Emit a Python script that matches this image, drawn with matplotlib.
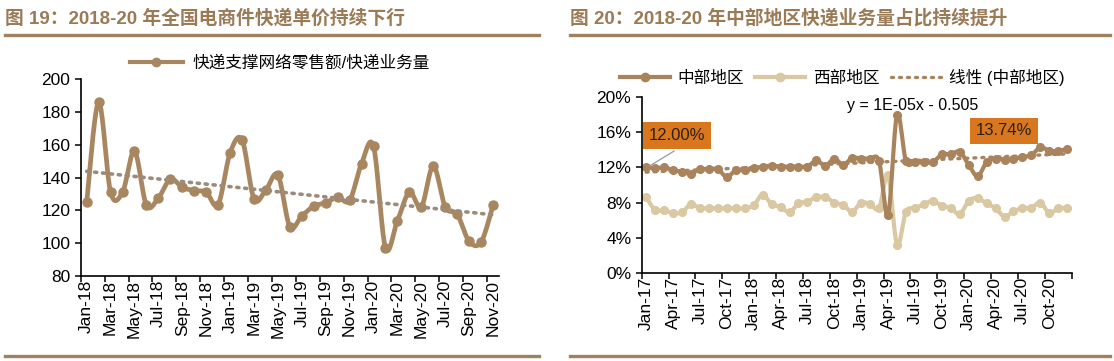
import matplotlib.pyplot as plt
import numpy as np
import pandas as pd
from matplotlib.lines import Line2D

plt.rcParams['font.family'] = ['Liberation Sans', 'Noto Sans CJK SC']

# 图19: 快递支撑网络零售额/快递业务量 (Jan-18 .. Nov-20)
months19 = pd.date_range('2018-01', periods=35, freq='MS').strftime('%b-%y').tolist()
price = [125, 186, 131, 131, 156, 123, 127.5, 139, 134, 132, 131, 123.5,
         155, 163, 127, 132.5, 141.5, 110, 116.5, 122.5, 124.5, 128, 126, 148.5,
         159, 97, 113.5, 131, 122, 147, 122, 117.5, 101, 100.5, 123]

# 图20: 快递业务量占比 (Jan-17 .. Dec-20), %
months20 = pd.date_range('2017-01', periods=48, freq='MS').strftime('%b-%y').tolist()
central = [12.0, 11.9, 12.0, 11.7, 11.5, 11.3, 11.8, 11.8, 11.8, 10.9, 11.7, 11.7,
           11.9, 12.1, 12.2, 12.1, 12.1, 12.1, 12.1, 12.8, 12.2, 13.0, 12.3, 13.1,
           13.0, 13.0, 12.7, 6.6, 18.0, 12.7, 12.6, 12.6, 12.6, 13.5, 13.5, 13.8,
           12.3, 11.0, 12.6, 13.0, 12.9, 13.0, 13.2, 13.4, 14.3, 13.9, 13.9, 14.1]
western = [8.6, 7.15, 7.1, 6.8, 6.9, 7.8, 7.35, 7.35, 7.35, 7.35, 7.35, 7.35,
           7.7, 8.9, 7.8, 7.5, 6.9, 7.9, 8.1, 8.6, 8.6, 8.0, 7.7, 6.95,
           8.0, 7.8, 7.35, 11.1, 3.2, 6.95, 7.35, 7.8, 8.2, 7.6, 7.4, 6.65,
           8.2, 8.5, 7.9, 7.35, 6.4, 7.0, 7.35, 7.4, 8.0, 6.8, 7.35, 7.35]

title_color = '#9B7A56'
rule_color = '#A0805F'
c_price = '#A88760'
c_central = '#A9835C'
c_western = '#D9C8A2'
c_trend = '#9C8B7A'
c_box = '#D9771E'


def smooth(y, n=20):
    # excel-like smoothed line (bezier through the points)
    p = np.column_stack([np.arange(len(y), dtype=float), np.asarray(y, float)])
    pp = np.vstack([p[0], p, p[-1]])
    t = np.linspace(0, 1, n)[:, None]
    out = []
    for i in range(len(p) - 1):
        p0, p1, p2, p3 = pp[i], pp[i + 1], pp[i + 2], pp[i + 3]
        c1 = p1 + (p2 - p0) / 6
        c2 = p2 - (p3 - p1) / 6
        seg = (1 - t)**3 * p1 + 3 * (1 - t)**2 * t * c1 + 3 * (1 - t) * t**2 * c2 + t**3 * p2
        out.append(seg if i == 0 else seg[1:])
    out = np.vstack(out)
    return out[:, 0], out[:, 1]


def style_axis(ax):
    for s in ['top', 'right']:
        ax.spines[s].set_visible(False)
    for s in ['left', 'bottom']:
        ax.spines[s].set_linewidth(1.2)
    ax.tick_params(axis='both', which='major', direction='out', length=4, width=1.1,
                   labelsize=12.5, colors='black')
    ax.tick_params(axis='x', which='minor', length=0, labelsize=12.5, rotation=90, pad=3)


fig = plt.figure(figsize=(11.14, 3.61), dpi=100)

# titles and rules
fig.text(5 / 1114, 1 - 18 / 361, '图 19：2018-20 年全国电商件快递单价持续下行', fontsize=13.5,
         fontweight='bold', color=title_color, va='center', ha='left')
fig.text(570 / 1114, 1 - 18 / 361, '图 20：2018-20 年中部地区快递业务量占比持续提升', fontsize=13.5,
         fontweight='bold', color=title_color, va='center', ha='left')
for x0, x1 in [(5, 539), (570, 1110)]:
    for yy in [35, 356]:
        fig.add_artist(Line2D([x0 / 1114, x1 / 1114], [1 - yy / 361] * 2, color=rule_color,
                              lw=2.4, transform=fig.transFigure))

# ---- left chart
ax1 = fig.add_axes([80.7 / 1114, 1 - 275.7 / 361, 418.3 / 1114, 196.4 / 361])
x1 = np.arange(len(price))
sx, sy = smooth(price)
ax1.plot(sx, sy, color=c_price, lw=3.4, solid_capstyle='round')
ax1.plot(x1, price, 'o', color=c_price, ms=6.5)
k, b = np.polyfit(x1, price, 1)
ax1.plot([0, x1[-1]], [b, k * x1[-1] + b], color=c_trend, lw=2.6,
         linestyle=(0, (0.6, 1.6)), dash_capstyle='round')
ax1.set_xlim(-0.5, len(price) - 0.5)
ax1.set_ylim(80, 200)
ax1.set_yticks(np.arange(80, 201, 20))
ax1.set_xticks(np.arange(-0.5, len(price), 2))
ax1.set_xticklabels([])
ax1.set_xticks(np.arange(0, len(price), 2), minor=True)
ax1.set_xticklabels(months19[::2], minor=True)
style_axis(ax1)
h = Line2D([], [], color=c_price, lw=3, marker='o', ms=6)
fig.legend([h], ['快递支撑网络零售额/快递业务量'], loc='center', bbox_to_anchor=(280 / 1114, 1 - 63 / 361),
           frameon=False, fontsize=12, handlelength=3.2, handletextpad=0.6)

# ---- right chart
ax2 = fig.add_axes([641.7 / 1114, 1 - 272.7 / 361, 430 / 1114, 175.4 / 361])
x2 = np.arange(len(central))
sx, sy = smooth(western)
ax2.plot(sx, sy, color=c_western, lw=3, solid_capstyle='round')
ax2.plot(x2, western, 'o', color=c_western, ms=5.5)
sx, sy = smooth(central)
ax2.plot(sx, sy, color=c_central, lw=3, solid_capstyle='round')
ax2.plot(x2, central, 'o', color=c_central, ms=5.5)
k, b = np.polyfit(x2, central, 1)
ax2.plot([0, x2[-1]], [b, k * x2[-1] + b], color=c_central, lw=2.4,
         linestyle=(0, (0.6, 1.8)), dash_capstyle='round')
ax2.set_xlim(-0.5, len(central) - 0.5)
ax2.set_ylim(0, 20)
ax2.set_yticks(np.arange(0, 21, 4))
ax2.set_yticklabels([f'{v}%' for v in range(0, 21, 4)])
ax2.set_xticks(np.arange(-0.5, len(central), 3))
ax2.set_xticklabels([])
ax2.set_xticks(np.arange(0, len(central), 3), minor=True)
ax2.set_xticklabels(months20[::3], minor=True)
style_axis(ax2)

ax2.text(22.4, 19.1, 'y = 1E-05x - 0.505', fontsize=11.5, va='center', ha='left')
ax2.annotate('', xy=(0.1, central[0]), xytext=(3.4, 14.05),
             arrowprops=dict(arrowstyle='-', color='#8C9BAA', lw=0.9))
ax2.text(3.44, 15.64, f'{central[0]:.2f}%', fontsize=12, ha='center', va='center', color='#2b2018',
         bbox=dict(boxstyle='square,pad=0.35', fc=c_box, ec='none'))
ax2.text(39.9, 16.16, '13.74%', fontsize=12, ha='center', va='center', color='#2b2018',
         bbox=dict(boxstyle='square,pad=0.35', fc=c_box, ec='none'))

hc = Line2D([], [], color=c_central, lw=3, marker='o', ms=6)
hw = Line2D([], [], color=c_western, lw=3, marker='o', ms=6)
ht = Line2D([], [], color=c_central, lw=2.4, linestyle=(0, (0.6, 1.8)), dash_capstyle='round')
fig.legend([hc, hw, ht], ['中部地区', '西部地区', '线性 (中部地区)'], loc='center', ncol=3,
           bbox_to_anchor=(842 / 1114, 1 - 77 / 361), frameon=False, fontsize=12,
           handlelength=3.0, handletextpad=0.45, columnspacing=0.7)

fig.savefig('out.png', dpi=100)
